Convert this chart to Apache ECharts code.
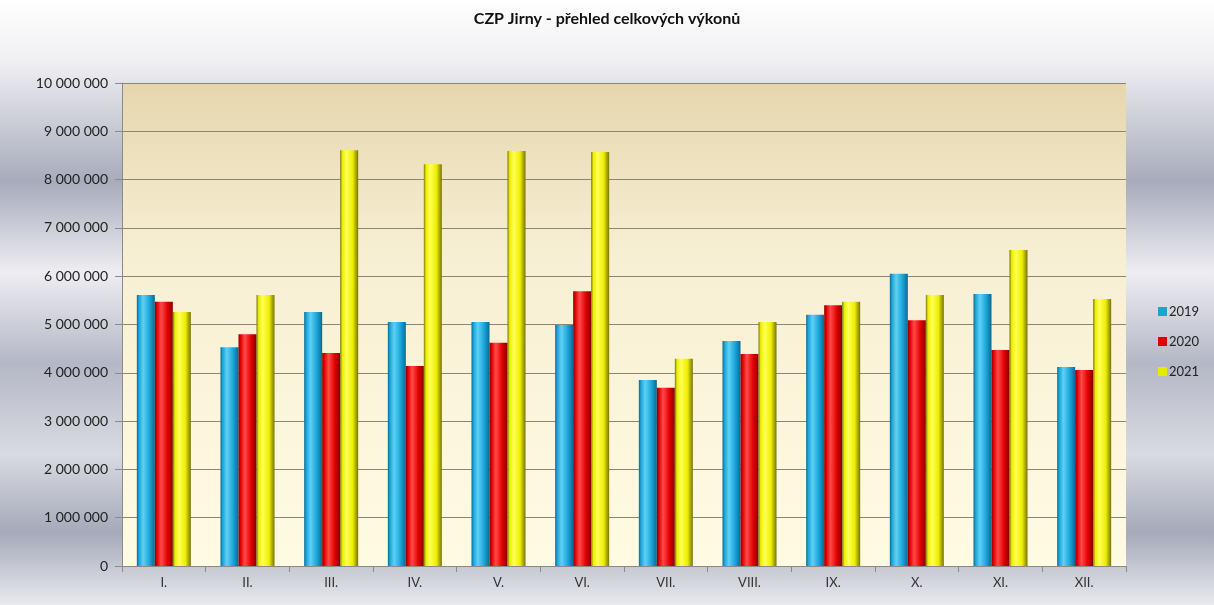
<!DOCTYPE html>
<html>
<head>
<meta charset="utf-8">
<title>CZP Jirny</title>
<script src="https://cdn.jsdelivr.net/npm/echarts@6/dist/echarts.min.js"></script>
<style>
  html, body { margin: 0; padding: 0; }
  #chart { width: 1214px; height: 605px; }
</style>
</head>
<body>
<div id="chart"></div>
<script>
const months = ['I.', 'II.', 'III.', 'IV.', 'V.', 'VI.', 'VII.', 'VIII.', 'IX.', 'X.', 'XI.', 'XII.']
const years = ['2019', '2020', '2021']
const v2019 = [5610000, 4530000, 5260000, 5050000, 5050000, 4990000, 3850000, 4660000, 5200000, 6050000, 5630000, 4120000]
const v2020 = [5470000, 4800000, 4410000, 4140000, 4620000, 5690000, 3690000, 4390000, 5400000, 5090000, 4470000, 4060000]
const v2021 = [5260000, 5610000, 8610000, 8320000, 8590000, 8570000, 4290000, 5050000, 5470000, 5610000, 6540000, 5530000]

// cylinder-ish look: dark edge, light streak, base colour
function barFill(dark, base, light) {
  return new echarts.graphic.LinearGradient(0, 0, 1, 0, [
    { offset: 0, color: dark },
    { offset: 0.12, color: base },
    { offset: 0.35, color: light },
    { offset: 0.7, color: base },
    { offset: 1, color: dark }
  ])
}

const fills = [
  barFill('#0b6a90', '#1aa6da', '#5fd0f5'),
  barFill('#860000', '#e30000', '#ff4a4a'),
  barFill('#77740a', '#eeee00', '#ffff55')
]
const legendColors = ['#1aa3d6', '#e00000', '#e8e800']
const seriesData = [v2019, v2020, v2021]

function fmt(v) {
  return String(v).replace(/\B(?=(\d{3})+(?!\d))/g, ' ')
}

const chart = echarts.init(document.getElementById('chart'))
chart.setOption({
  animation: false,
  backgroundColor: new echarts.graphic.LinearGradient(0, 0, 0, 1, [
    { offset: 0, color: '#ffffff' },
    { offset: 0.1, color: '#f0f0f3' },
    { offset: 0.3, color: '#a7abbb' },
    { offset: 0.45, color: '#eeeef2' },
    { offset: 0.6, color: '#b4b7c5' },
    { offset: 0.75, color: '#d9dbe2' },
    { offset: 0.88, color: '#a5a9b9' },
    { offset: 1, color: '#e9eaee' }
  ]),
  textStyle: { fontFamily: 'Lato, "Open Sans", sans-serif' },
  title: {
    text: 'CZP Jirny - přehled celkových výkonů',
    left: 'center',
    top: 6,
    textStyle: { fontSize: 16, fontWeight: 'bold', color: '#111' }
  },
  legend: {
    orient: 'vertical',
    left: 1153,
    top: 300,
    itemWidth: 9,
    itemHeight: 9,
    itemGap: 17,
    icon: 'rect',
    textStyle: { fontSize: 13, color: '#222', padding: [0, 0, 0, -3] },
    data: years.map((y, i) => ({ name: y, itemStyle: { color: legendColors[i] } }))
  },
  grid: {
    left: 122,
    right: 88,
    top: 83,
    bottom: 39,
    show: true,
    borderWidth: 0,
    backgroundColor: new echarts.graphic.LinearGradient(0, 0, 0, 1, [
      { offset: 0, color: '#e6d6ae' },
      { offset: 0.35, color: '#f7efd3' },
      { offset: 1, color: '#fffbe3' }
    ])
  },
  xAxis: {
    type: 'category',
    data: months,
    axisLine: { lineStyle: { color: '#8a8a8a' } },
    axisTick: { show: true, length: 6, lineStyle: { color: '#8a8a8a' } },
    axisLabel: { fontSize: 13, color: '#333', margin: 10 }
  },
  yAxis: {
    type: 'value',
    min: 0,
    max: 10000000,
    interval: 1000000,
    axisLine: { show: true, lineStyle: { color: '#8a8a8a' } },
    axisTick: { show: true, length: 7, lineStyle: { color: '#8a8a8a' } },
    axisLabel: { fontSize: 14, color: '#222', margin: 14, formatter: fmt },
    splitLine: { lineStyle: { color: '#8c8577', width: 1 } }
  },
  series: years.map((y, i) => ({
    name: y,
    type: 'bar',
    data: seriesData[i],
    barWidth: 18,
    barGap: '0%',
    itemStyle: { color: fills[i] }
  }))
})
</script>
</body>
</html>
